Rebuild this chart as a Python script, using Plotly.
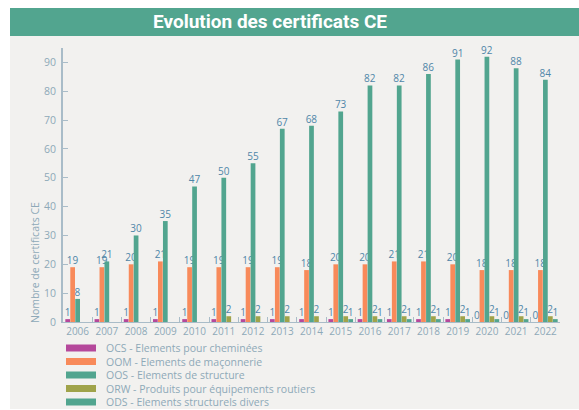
import plotly.graph_objects as go

# --- data -------------------------------------------------------------
years = [str(y) for y in range(2006, 2023)]

ocs = [1, 1, 1, 1, 1, 1, 1, 1, 1, 1, 1, 1, 1, 1, 0, 0, 0]
oom = [19, 19, 20, 21, 19, 19, 19, 19, 18, 20, 20, 21, 21, 20, 18, 18, 18]
oos = [8, 21, 30, 35, 47, 50, 55, 67, 68, 73, 82, 82, 86, 91, 92, 88, 84]
orw = [None, None, None, None, None, 2, 2, 2, 2, 2, 2, 2, 2, 2, 2, 2, 2]
ods = [None, None, None, None, None, None, None, None, None, 1, 1, 1, 1, 1, 1, 1, 1]

series_names = [
    "OCS - Elements pour cheminées",
    "OOM - Elements de maçonnerie",
    "OOS - Elements de structure",
    "ORW - Produits pour équipements routiers",
    "ODS - Elements structurels divers",
]
series_values = [ocs, oom, oos, orw, ods]
series_colors = ["#b5489b", "#f88a5a", "#52a58f", "#a0a34a", "#52a58f"]

# --- geometry helpers (pixel -> paper coordinates) ---------------------
W, H = 579, 410
ML, MR, MT, MB = 63, 19, 48, 88
PW, PH = W - ML - MR, H - MT - MB


def xp(px):
    return (px - ML) / PW


def yp(py):
    return (H - MB - py) / PH


label_color = "#4f86a8"
axis_text = "#8ea9b8"
axis_line = "#a9bcc8"
font_main = "Open Sans"

fig = go.Figure()
for name, vals, col in zip(series_names, series_values, series_colors):
    fig.add_trace(go.Bar(
        x=years, y=vals, name=name,
        marker=dict(color=col, line=dict(width=0)),
        text=[("" if v is None else str(v)) for v in vals],
        textposition="outside",
        constraintext="none",
        cliponaxis=False,
        textfont=dict(family=font_main, size=10, color=label_color),
        showlegend=False,
    ))

shapes = [
    # panel background
    dict(type="rect", xref="paper", yref="paper",
         x0=xp(10), x1=xp(590), y0=yp(409), y1=yp(36),
         fillcolor="#f2f1ef", line=dict(width=0), layer="below"),
    # title banner
    dict(type="rect", xref="paper", yref="paper",
         x0=xp(10), x1=xp(590), y0=yp(36), y1=yp(8),
         fillcolor="#52a58f", line=dict(width=0), layer="below"),
]

annotations = [
    dict(text="<b>Evolution des certificats CE</b>", xref="paper", yref="paper",
         x=xp(270), y=yp(21), xanchor="center", yanchor="middle", showarrow=False,
         font=dict(family="Roboto", size=19, color="white")),
    dict(text="Nombre de certificats CE", xref="paper", yref="paper",
         x=xp(35), y=yp(263), xanchor="center", yanchor="middle", showarrow=False,
         textangle=-90, font=dict(family=font_main, size=10.5, color=axis_text)),
]

# legend drawn as swatches + labels
legend_rows = [348, 361.5, 375, 388.5, 402]
for name, col, py in zip(series_names, series_colors, legend_rows):
    shapes.append(dict(type="rect", xref="paper", yref="paper",
                       x0=xp(66), x1=xp(96), y0=yp(py + 3.5), y1=yp(py - 3.5),
                       fillcolor=col, line=dict(width=0)))
    annotations.append(dict(text=name, xref="paper", yref="paper",
                            x=xp(104), y=yp(py), xanchor="left", yanchor="middle",
                            showarrow=False,
                            font=dict(family=font_main, size=10.5, color=axis_text)))

fig.update_layout(
    width=W, height=H,
    margin=dict(l=ML, r=MR, t=MT, b=MB, pad=0),
    paper_bgcolor="white",
    plot_bgcolor="rgba(0,0,0,0)",
    barmode="group",
    bargap=0.15,
    bargroupgap=0.05,
    shapes=shapes,
    annotations=annotations,
    font=dict(family=font_main, color=axis_text),
)

fig.update_xaxes(
    type="category",
    showline=True, linecolor=axis_line, linewidth=1,
    ticks="inside", tickson="boundaries", ticklen=5, tickcolor=axis_line,
    tickangle=0,
    tickfont=dict(family=font_main, size=10, color=axis_text),
    showgrid=False, zeroline=False,
)

fig.update_yaxes(
    range=[0, 95],
    tickvals=[0, 10, 20, 30, 40, 50, 60, 70, 80, 90],
    showline=True, linecolor=axis_line, linewidth=2,
    ticks="inside", ticklen=5, tickcolor=axis_line,
    ticklabelstandoff=3,
    tickfont=dict(family=font_main, size=10.5, color=axis_text),
    showgrid=False, zeroline=False,
)

fig.write_html("out.html")
